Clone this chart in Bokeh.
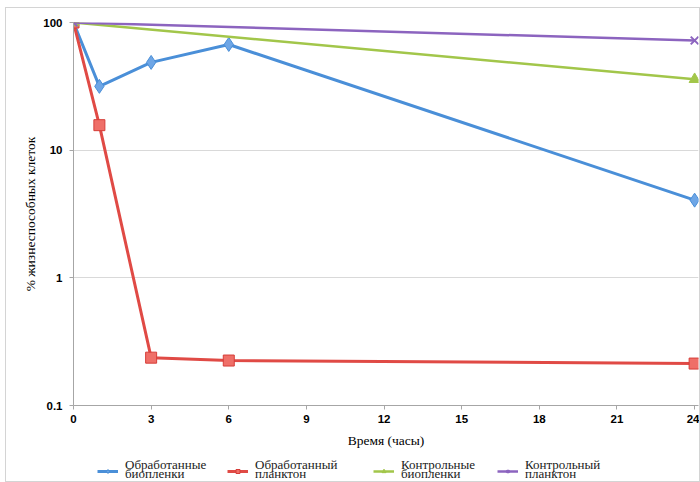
from bokeh.plotting import figure
from bokeh.layouts import column
from bokeh.models import (Legend, LegendItem, FixedTicker, CustomJSTickFormatter, Range1d)
from bokeh.embed import file_html
from bokeh.resources import INLINE

# ---- data ----
t_treated = [0, 1, 3, 6, 24]
treated_biofilm = [100, 31.6, 48.7, 67.3, 4.06]
treated_plankton = [100, 15.7, 0.237, 0.225, 0.213]
t_control = [0, 24]
control_biofilm = [100, 35.9]
control_plankton = [100, 72.3]

x_ticks = [0, 3, 6, 9, 12, 15, 18, 21, 24]
y_ticks = [0.1, 1, 10, 100]

series_names = [("Обработанные", "биопленки"), ("Обработанный", "планктон"),
                ("Контрольные", "биопленки"), ("Контрольный", "планктон")]

# ---- styles / layout ----
blue = "#4a8fd8"
red = "#e04a45"
green = "#a2c64a"
purple = "#8c64bf"
styles = [
    dict(color=blue, lw=3, marker="diamond", size=14, fill="#6ea6e6", edge=blue, mlw=1),
    dict(color=red, lw=3, marker="square", size=11, fill="#ef6f68", edge="#d63d38", mlw=1),
    dict(color=green, lw=2.5, marker="triangle", size=11, fill=green, edge=green, mlw=1),
    dict(color=purple, lw=2.5, marker="x", size=11, fill=None, edge=purple, mlw=2),
]
legend_offsets = [24, 154, 300, 424]   # item positions in the legend strip (px)

p = figure(width=693, height=442, y_axis_type="log",
           x_range=Range1d(0, 24.15), y_range=Range1d(0.1, 100),
           output_backend="svg", toolbar_location=None,
           min_border_left=67, min_border_right=1, min_border_top=14,
           min_border_bottom=45)
p.outline_line_color = None

# grid
p.xgrid.grid_line_color = None
p.ygrid.grid_line_color = "#d9d9d9"
p.ygrid.grid_line_width = 1
p.ygrid.ticker = FixedTicker(ticks=y_ticks)

# axes
for ax in (p.xaxis[0], p.yaxis[0]):
    ax.axis_line_color = "#a6a6a6"
    ax.major_tick_line_color = "#a6a6a6"
    ax.major_tick_in = 0
    ax.major_tick_out = 4
    ax.minor_tick_line_color = None
    ax.major_label_text_font = "Liberation Sans"
    ax.major_label_text_font_style = "bold"
    ax.major_label_text_font_size = "11.5px"
    ax.major_label_text_color = "#000000"
    ax.axis_label_text_font = "Liberation Serif"
    ax.axis_label_text_font_style = "normal"
    ax.axis_label_text_font_size = "13.5px"
    ax.axis_label_text_color = "#000000"

p.xaxis.ticker = FixedTicker(ticks=x_ticks)
p.yaxis.ticker = FixedTicker(ticks=y_ticks)
p.yaxis.formatter = CustomJSTickFormatter(code="return tick.toString();")
p.xaxis.axis_label = "Время (часы)"
p.yaxis.axis_label = "% жизнеспособных клеток"
p.xaxis.major_label_standoff = 5
p.xaxis.axis_label_standoff = 7
p.yaxis.major_label_standoff = 7
p.yaxis.axis_label_standoff = 2

series = [(t_treated, treated_biofilm), (t_treated, treated_plankton),
          (t_control, control_biofilm), (t_control, control_plankton)]

for (xs, ys), st in zip(series, styles):
    p.line(xs, ys, line_color=st["color"], line_width=st["lw"])
    p.scatter(xs, ys, marker=st["marker"], size=st["size"],
              fill_color=st["fill"], line_color=st["edge"], line_width=st["mlw"])

# ---- legend strip ----
lf = figure(width=693, height=31, x_range=Range1d(0, 1), y_range=Range1d(0, 1),
            output_backend="svg", toolbar_location=None,
            min_border_left=0, min_border_right=0, min_border_top=0, min_border_bottom=0)
lf.axis.visible = False
lf.grid.visible = False
lf.outline_line_color = None


def make_legend(items, loc, glyph_w, standoff):
    lg = Legend(items=items, orientation="horizontal", location=loc)
    lg.label_text_font = "Liberation Serif"
    lg.label_text_font_size = "13px"
    lg.label_text_color = "#1a1a1a"
    lg.label_height = 8
    lg.label_width = 0
    lg.glyph_width = glyph_w
    lg.glyph_height = 10
    lg.label_standoff = standoff
    lg.spacing = 0
    lg.padding = 0
    lg.margin = 0
    lg.border_line_color = None
    lg.background_fill_alpha = 0
    return lg


for (l1, l2), st, xo in zip(series_names, styles, legend_offsets):
    # legend proxies: placed outside the strip's visible range
    rl = lf.line([-5, -4], [-5, -5], line_color=st["color"], line_width=st["lw"])
    rm = lf.scatter([-5], [-5], marker=st["marker"], size=8,
                    fill_color=st["fill"], line_color=st["edge"], line_width=st["mlw"])
    ghost = lf.line([-5, -4], [-5, -5], line_alpha=0)
    lf.add_layout(make_legend([LegendItem(label=" ", renderers=[rl, rm])],
                              (xo, 5), 21, 0), "center")
    lf.add_layout(make_legend([LegendItem(label=l1, renderers=[ghost])],
                              (xo + 28, 8), 0, 0), "center")
    lf.add_layout(make_legend([LegendItem(label=l2, renderers=[ghost])],
                              (xo + 28, -1), 0, 0), "center")

layout = column(p, lf, spacing=0)
layout.styles = {"border": "1px solid #d4d4d4", "margin-left": "5px", "margin-top": "7px"}

open("out.html", "w").write(file_html(layout, INLINE))
